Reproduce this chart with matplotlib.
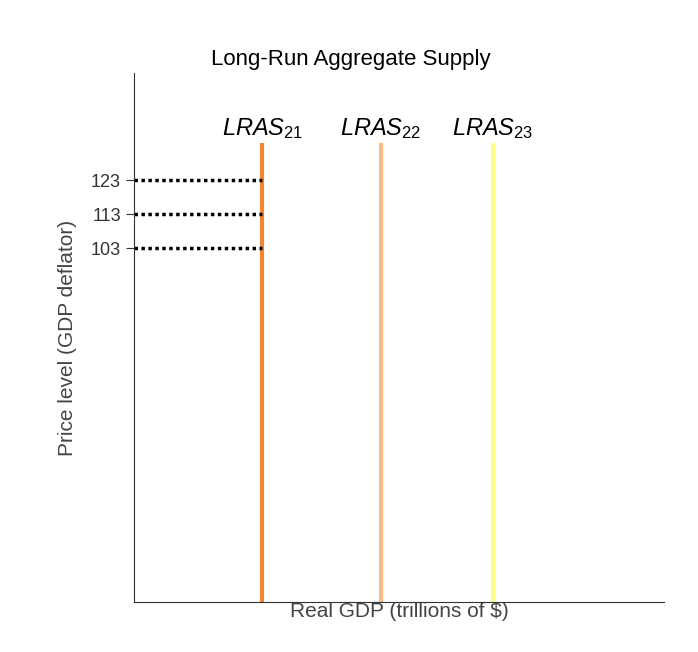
import matplotlib.pyplot as plt

plt.rcParams["font.family"] = "Liberation Sans"
plt.rcParams["mathtext.fontset"] = "custom"
plt.rcParams["mathtext.it"] = "Liberation Sans:italic"
plt.rcParams["mathtext.rm"] = "Liberation Sans"

# data
lras_labels = ["21", "22", "23"]
lras_gdp = [24.2, 46.6, 67.7]
lras_colors = ["#EE8633", "#F8BD86", "#FFFF88"]
lras_top = 134
price_levels = [103, 113, 123]

fig = plt.figure(figsize=(6.98, 6.52), dpi=100)
ax = fig.add_axes([0.192, 0.0767, 0.759, 0.811])
ax.set_xlim(0, 100)
ax.set_ylim(-1, 154.5)

for gdp, lab, col in zip(lras_gdp, lras_labels, lras_colors):
    ax.plot([gdp, gdp], [-1, lras_top], color=col, lw=3, solid_capstyle="butt")
    ax.text(gdp, lras_top + 0.5, r"$\it{LRAS}_{\rm " + lab + "}$", ha="center",
            va="bottom", fontsize=17)

for p in price_levels:
    ax.plot([0, lras_gdp[0]], [p, p], color="black", ls=(0, (1, 1)), lw=2.5)

ax.set_yticks(price_levels)
ax.set_yticklabels([str(p) for p in price_levels], fontsize=13, color="#333333")
ax.tick_params(axis="y", length=6, color="#333333")
ax.set_xticks([])
for s in ["top", "right"]:
    ax.spines[s].set_visible(False)
ax.spines["left"].set_color("#333333")
ax.spines["bottom"].set_color("#333333")

ax.set_title("Long-Run Aggregate Supply", fontsize=16, x=0.41, pad=6)
ax.set_xlabel("Real GDP (trillions of $)", fontsize=15, color="#444444", labelpad=0)
ax.set_ylabel("Price level (GDP deflator)", fontsize=15, color="#444444", labelpad=10)

fig.savefig("out.png")
